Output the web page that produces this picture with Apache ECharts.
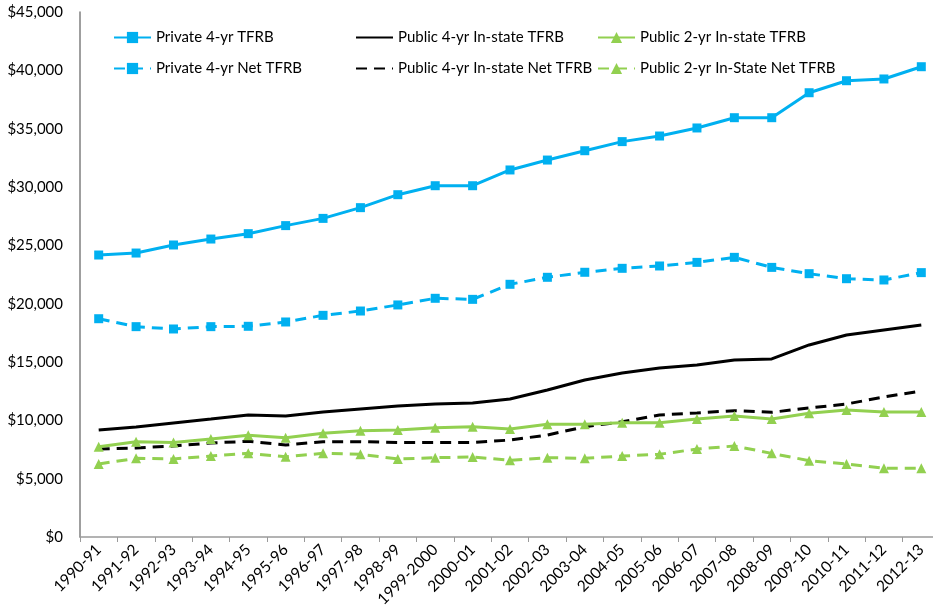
<!DOCTYPE html>
<html>
<head>
<meta charset="utf-8">
<script src="https://cdn.jsdelivr.net/npm/echarts@6/dist/echarts.min.js"></script>
<style>html,body{margin:0;padding:0;background:#fff;}#c{width:933px;height:610px;}</style>
</head>
<body>
<div id="c"></div>
<script>
const categories = ['1990-91','1991-92','1992-93','1993-94','1994-95','1995-96','1996-97','1997-98','1998-99','1999-2000','2000-01','2001-02','2002-03','2003-04','2004-05','2005-06','2006-07','2007-08','2008-09','2009-10','2010-11','2011-12','2012-13'];
const private4 = [24170,24340,25030,25540,26000,26690,27310,28230,29340,30110,30110,31460,32310,33110,33890,34370,35060,35940,35940,38080,39110,39260,40310];
const private4Net = [18710,18030,17830,18030,18060,18430,19000,19370,19890,20460,20370,21660,22260,22690,23030,23230,23540,23970,23110,22570,22140,22030,22660];
const public4 = [9170,9430,9770,10110,10460,10370,10710,10970,11230,11400,11490,11830,12600,13460,14060,14490,14740,15170,15260,16460,17310,17740,18170];
const public4Net = [7540,7630,7800,8060,8200,7890,8170,8170,8100,8100,8100,8310,8740,9450,9880,10460,10630,10830,10690,11060,11400,12000,12510];
const public2 = [7740,8170,8090,8400,8720,8510,8890,9110,9170,9370,9460,9260,9660,9660,9800,9800,10110,10370,10110,10600,10890,10710,10710];
const public2Net = [6260,6740,6690,6940,7170,6880,7170,7090,6690,6800,6860,6570,6800,6740,6940,7090,7540,7800,7170,6540,6260,5890,5890];
const yTicks = {min: 0, max: 45000, interval: 5000};

const BLUE = '#00B0F0', BLACK = '#000000', GREEN = '#92D050';
const FONT = 'Lato, "Open Sans", sans-serif';

function mk(name, data, color, dashed, symbol, size) {
  return {
    name: name, type: 'line', data: data,
    symbol: symbol, symbolSize: size, showSymbol: symbol !== 'none',
    lineStyle: {color: color, width: 3, type: dashed ? [11, 7] : 'solid'},
    itemStyle: {color: color},
    emphasis: {disabled: true},
    z: 3
  };
}

const legendBase = {
  orient: 'vertical', top: 30, padding: 0, itemWidth: 37, itemHeight: 14, itemGap: 16,
  textStyle: {fontFamily: FONT, fontSize: 15, color: '#000'},
  selectedMode: false
};

const chart = echarts.init(document.getElementById('c'), null, {renderer: 'canvas'});
chart.setOption({
  animation: false,
  backgroundColor: '#fff',
  grid: {left: 80, right: -7, top: 12, bottom: 73, containLabel: false, outerBoundsMode: 'none'},
  legend: [
    Object.assign({}, legendBase, {left: 113, data: ['Private 4-yr TFRB', 'Private 4-yr Net TFRB']}),
    Object.assign({}, legendBase, {left: 355, data: [
      {name: 'Public 4-yr In-state TFRB', itemStyle: {opacity: 0}},
      {name: 'Public 4-yr In-state Net TFRB', itemStyle: {opacity: 0}}]}),
    Object.assign({}, legendBase, {left: 597, data: ['Public 2-yr In-state TFRB', 'Public 2-yr In-State Net TFRB']})
  ],
  xAxis: {
    type: 'category', data: categories, boundaryGap: true,
    axisLine: {lineStyle: {color: '#9a9a9a', width: 1.5}},
    axisTick: {show: true, alignWithLabel: false, length: 5, lineStyle: {color: '#9a9a9a'}},
    axisLabel: {rotate: 45, interval: 0, margin: 10, fontFamily: FONT, fontSize: 15.5, color: '#000'},
    splitLine: {show: false}
  },
  yAxis: {
    type: 'value', min: yTicks.min, max: yTicks.max, interval: yTicks.interval,
    axisLine: {show: true, lineStyle: {color: '#7f7f7f', width: 1.5}},
    axisTick: {show: false},
    splitLine: {show: false},
    axisLabel: {margin: 17, fontFamily: FONT, fontSize: 15, color: '#000',
      formatter: v => '$' + v.toLocaleString('en-US')}
  },
  series: [
    mk('Private 4-yr TFRB', private4, BLUE, false, 'rect', 9),
    mk('Private 4-yr Net TFRB', private4Net, BLUE, true, 'rect', 9),
    mk('Public 4-yr In-state TFRB', public4, BLACK, false, 'none', 0),
    mk('Public 4-yr In-state Net TFRB', public4Net, BLACK, true, 'none', 0),
    mk('Public 2-yr In-state TFRB', public2, GREEN, false, 'triangle', 10),
    mk('Public 2-yr In-State Net TFRB', public2Net, GREEN, true, 'triangle', 10)
  ]
});
</script>
</body>
</html>
